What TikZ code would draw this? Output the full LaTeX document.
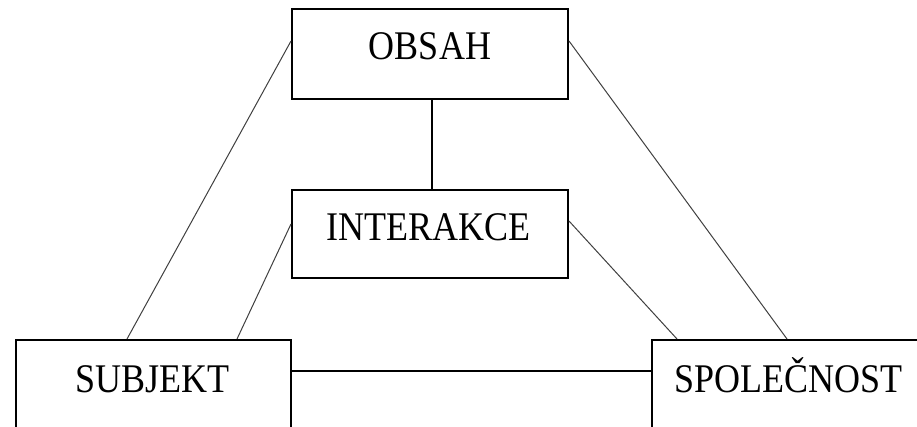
\documentclass[tikz,border=0pt]{standalone}
\usepackage{fontspec}
\setmainfont{Liberation Serif}
\usetikzlibrary{calc}
\begin{document}
\begin{tikzpicture}[x=1pt,y=-1pt,
  box/.style={draw=black,line width=2pt,fill=white,inner sep=0pt,minimum width=276pt,minimum height=90pt},
  lbl/.style={anchor=base,inner sep=0pt,font=\fontsize{36}{40}\selectfont},
  thin/.style={draw=black!75,line width=1pt},
  thick/.style={draw=black,line width=1.8pt}]
\useasboundingbox (0,0) rectangle (917,427);
\clip (0,0) rectangle (917,427);
\fill[white] (0,0) rectangle (917,427);
\node[box] (obsah) at (430,54) {};
\node[box,minimum height=88pt] (inter) at (430,234) {};
\node[box,minimum width=275pt] (subj) at (153.5,385) {};
\node[box,minimum width=272pt] (spol) at (788,385) {};
\coordinate (oL) at ([yshift=-33pt]obsah.north west);
\coordinate (oR) at ([yshift=-33pt]obsah.north east);
\coordinate (iL) at ([yshift=-35pt]inter.north west);
\coordinate (iR) at ([yshift=-32pt]inter.north east);
\coordinate (sA) at ([xshift=112pt]subj.north west);
\coordinate (sB) at ([xshift=222pt]subj.north west);
\coordinate (pA) at ([xshift=26pt]spol.north west);
\coordinate (pB) at ([xshift=136pt]spol.north west);
\draw[thin] (oL) -- (sA);
\draw[thin] (iL) -- (sB);
\draw[thin] (oR) -- (pB);
\draw[thin] (iR) -- (pA);
\draw[thick] ([xshift=2pt]obsah.south) -- ([xshift=2pt]inter.north);
\draw[thick] ([yshift=14pt]subj.east) -- ([yshift=14pt]spol.west);
\node[lbl] (tobsah) at (430,60) {\scalebox{1}[1.13]{OBSAH}};
\node[lbl] (tinter) at (428.5,241) {\scalebox{1}[1.13]{INTERAKCE}};
\node[lbl] (tsubj) at (152.5,392) {\scalebox{1}[1.13]{SUBJEKT}};
\node[lbl] (tspol) at (788.5,392) {\scalebox{1}[1.13]{SPOLEČNOST}};
\end{tikzpicture}
\end{document}
